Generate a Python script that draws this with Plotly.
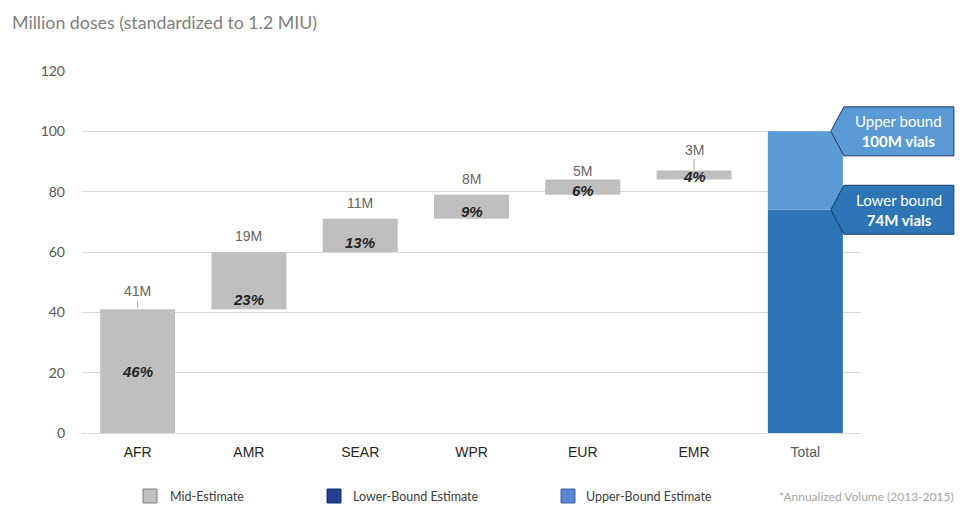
import plotly.graph_objects as go

# Regional demand (million doses) and share of the mid-estimate total
regions = ["AFR", "AMR", "SEAR", "WPR", "EUR", "EMR"]
region_doses = [41, 19, 11, 8, 5, 3]
region_share = ["46%", "23%", "13%", "9%", "6%", "4%"]

total_label = "Total"
lower_bound = 74
upper_bound = 100

y_ticks = [0, 20, 40, 60, 80, 100, 120]

# Layout geometry (pixels)
W, H = 965, 506
ML, MR, MT, MB = 82, 104, 71, 73
PW, PH = W - ML - MR, H - MT - MB

GREY = "#bfbfbf"
LOWER = "#2e75b6"
UPPER = "#5b9bd5"


def px_x(p):
    return (p - ML) / PW


def px_y(p):
    return (H - MB - p) / PH


# Waterfall bases: each region starts where the previous one ended
bases = []
running = 0
for v in region_doses:
    bases.append(running)
    running += v

categories = regions + [total_label]
n_cat = len(categories)
total_paper_x = (n_cat - 1 + 0.5) / n_cat

fig = go.Figure()
fig.add_trace(go.Bar(
    x=regions, y=region_doses, base=bases,
    marker=dict(color=GREY, line=dict(width=0)),
    showlegend=False, hoverinfo="skip",
))
fig.add_trace(go.Bar(
    x=[total_label], y=[lower_bound], base=[0],
    marker=dict(color=LOWER, line=dict(width=0)),
    showlegend=False, hoverinfo="skip",
))
fig.add_trace(go.Bar(
    x=[total_label], y=[upper_bound - lower_bound], base=[lower_bound],
    marker=dict(color=UPPER, line=dict(width=0)),
    showlegend=False, hoverinfo="skip",
))

annotations = []

# Dose labels above each step, with a short leader on the first and last step
leader = {"AFR": -18, "EMR": -21}
for r, v, b in zip(regions, region_doses, bases):
    top = b + v
    if r in leader:
        annotations.append(dict(
            x=r, y=top, xref="x", yref="y", text=f"{v}M",
            showarrow=True, arrowhead=0, arrowwidth=1, arrowcolor="#a6a6a6",
            ax=0, ay=leader[r], standoff=1,
            font=dict(family="Liberation Sans, Arial", size=14, color="#666666"),
        ))
    else:
        annotations.append(dict(
            x=r, y=top, xref="x", yref="y", text=f"{v}M",
            showarrow=False, yanchor="middle", yshift=16 if v > 6 else 9,
            font=dict(family="Liberation Sans, Arial", size=14, color="#666666"),
        ))

# Share labels inside each step, near its lower edge
for i, (r, v, b, s) in enumerate(zip(regions, region_doses, bases, region_share)):
    y = b + v / 2 if i == 0 else b + min(v * 0.3, 3.3)
    annotations.append(dict(
        x=r, y=y, xref="x", yref="y", text=f"<b><i>{s}</i></b>",
        showarrow=False, yanchor="middle",
        font=dict(family="Liberation Sans, Arial", size=15, color="#262626"),
    ))

# Callouts for the bound estimates on the total bar
shapes = []
callouts = [
    (upper_bound, UPPER, "Upper bound", f"{upper_bound}M vials"),
    (lower_bound, LOWER, "Lower bound", f"{lower_bound}M vials"),
]
for val, col, line1, line2 in callouts:
    shapes.append(dict(
        type="path", xref="paper", yref="y",
        xsizemode="pixel", ysizemode="pixel",
        xanchor=total_paper_x, yanchor=val,
        path="M 25.5 0 L 38.5 24.5 L 148.5 24.5 L 148.5 -24.5 L 38.5 -24.5 Z",
        fillcolor=col, line=dict(color="#203864", width=1), layer="above",
    ))
    annotations.append(dict(
        x=total_paper_x, y=val, xref="paper", yref="y", xshift=93.5,
        text=f"{line1}<br><b>{line2}</b>", showarrow=False,
        align="center", xanchor="center", yanchor="middle",
        font=dict(family="Lato, Open Sans", size=15, color="#ffffff"),
    ))

# Legend drawn as swatches plus labels under the plot
legend_items = [
    (143, 168, "#bfbfbf", "#808080", "Mid-Estimate"),
    (327, 351, "#203f8f", "#1a2d66", "Lower-Bound Estimate"),
    (561, 584, "#5b87d6", "#3c64a8", "Upper-Bound Estimate"),
]
for bx, tx, fill, edge, label in legend_items:
    shapes.append(dict(
        type="rect", xref="paper", yref="paper",
        x0=px_x(bx), x1=px_x(bx + 14), y0=px_y(503), y1=px_y(489),
        fillcolor=fill, line=dict(color=edge, width=1),
    ))
    annotations.append(dict(
        x=px_x(tx), y=px_y(496), xref="paper", yref="paper",
        text=label, showarrow=False, xanchor="left", yanchor="middle",
        font=dict(family="Lato, Open Sans", size=12.5, color="#404040"),
    ))

annotations.append(dict(
    x=px_x(956), y=px_y(496), xref="paper", yref="paper",
    text="*Annualized Volume (2013-2015)", showarrow=False,
    xanchor="right", yanchor="middle",
    font=dict(family="Lato, Open Sans", size=12, color="#a6a6a6"),
))

annotations.append(dict(
    x=px_x(10), y=px_y(22), xref="paper", yref="paper",
    text="Million doses (standardized to 1.2 MIU)", showarrow=False,
    xanchor="left", yanchor="middle",
    font=dict(family="Lato, Open Sans", size=17.8, color="#7f7f7f"),
))

tick_text = [f"<span style='color:#262626'>{c}</span>" for c in regions] + \
    [f"<span style='color:#595959'>{total_label}</span>"]

fig.update_layout(
    width=W, height=H,
    margin=dict(l=ML, r=MR, t=MT, b=MB, pad=0),
    paper_bgcolor="white", plot_bgcolor="white",
    barmode="overlay", bargap=0.326,
    showlegend=False,
    shapes=shapes, annotations=annotations,
    xaxis=dict(
        type="category", categoryorder="array", categoryarray=categories,
        range=[-0.5, n_cat - 0.5],
        tickmode="array", tickvals=categories, ticktext=tick_text,
        showgrid=False, showline=False, zeroline=False, ticks="",
        ticklabelstandoff=9,
        tickfont=dict(family="Liberation Sans, Arial", size=14, color="#262626"),
    ),
    yaxis=dict(
        range=[0, 120], tickvals=y_ticks,
        showgrid=True, gridcolor="#d9d9d9", gridwidth=1,
        zeroline=True, zerolinecolor="#d9d9d9", zerolinewidth=1,
        showline=False, ticks="", ticklabelstandoff=16,
        tickfont=dict(family="Lato, Open Sans", size=14, color="#595959"),
    ),
)

fig.write_html("out.html")
